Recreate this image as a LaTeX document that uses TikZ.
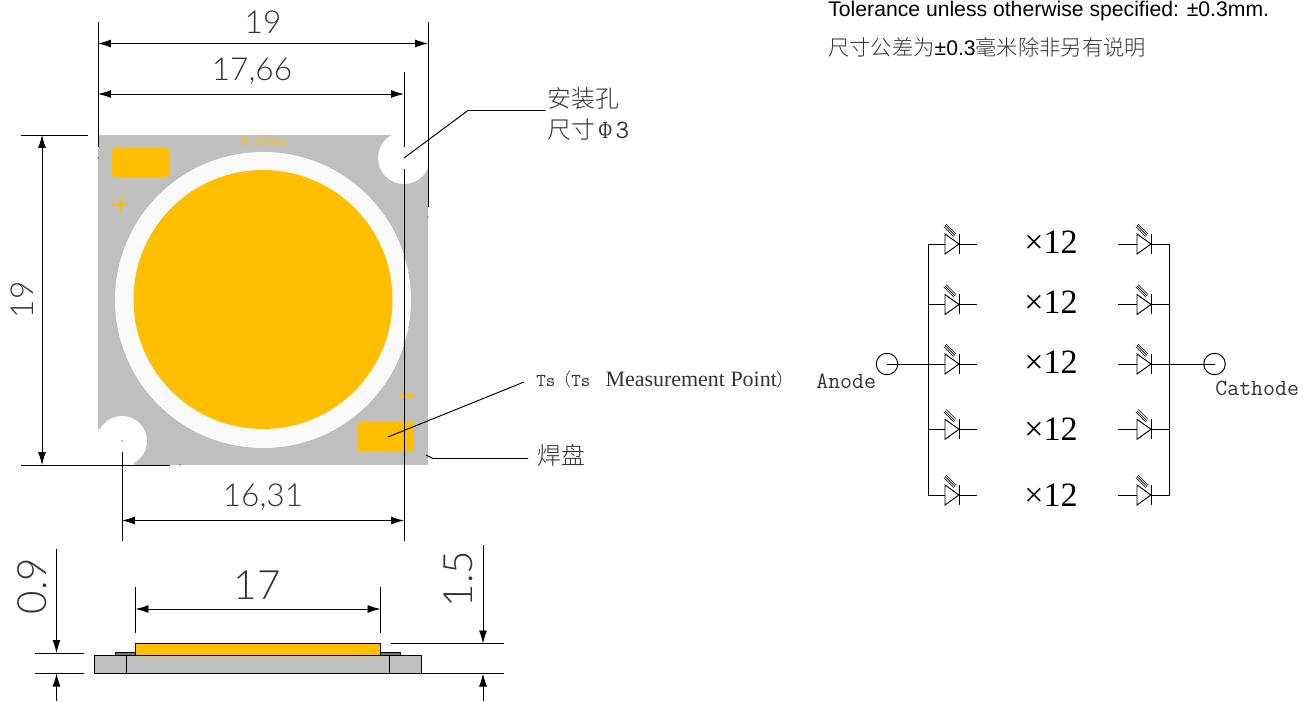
\documentclass[tikz,border=0pt]{standalone}
\usepackage{fontspec}
\usetikzlibrary{arrows.meta}
\usetikzlibrary{positioning}
\setmainfont{Liberation Serif}
\setsansfont{Liberation Sans}
\newfontfamily\cjk{Noto Sans CJK SC Light}
\newfontfamily\cadfont{Lato Light}
\newfontfamily\monofont{Latin Modern Mono}
\definecolor{myellow}{rgb}{1, 0.75, 0}
\definecolor{mgray}{rgb}{0.75, 0.75, 0.75}
\definecolor{mring}{rgb}{0.98, 0.98, 0.98}
\definecolor{mtext}{rgb}{0.2, 0.2, 0.2}
\newcommand{\txtsize}[1]{\fontsize{#1}{#1}\selectfont}
\tikzset{thinline/.style = {line width = 0.55pt}}
\tikzset{dimline/.style = {thinline, {Latex[length = 0.26cm, width = 0.16cm]}-{Latex[length = 0.26cm, width = 0.16cm]}}}
\tikzset{dimend/.style = {thinline, -{Latex[length = 0.26cm, width = 0.16cm]}}}
\tikzset{cadlabel/.style = {inner sep = 0, text = mtext, font = \cadfont\txtsize{18}}}
\tikzset{sidelabel/.style = {cadlabel, font = \cadfont\txtsize{23}}}
\tikzset{cjklabel/.style = {inner sep = 0, anchor = west, text = mtext, font = \cjk\txtsize{13.6}}}
\tikzset{monolabel/.style = {inner sep = 0, anchor = west, text = mtext, font = \monofont\txtsize{13.2}}}
\tikzset{countlabel/.style = {inner sep = 0, font = \txtsize{19.4}}}
\tikzset{term/.style = {draw, thinline, circle, inner sep = 0, minimum size = 0.43cm}}
\newcommand{\ledsym}[2]{
  \begin{scope}[shift = {(#1, #2)}]
    \draw [thinline] (0, -10) -- (14, 0) -- (0, 10) -- cycle;
    \draw [thinline] (14, -10) -- (14, 10);
    \foreach \k in {-1.2, 0, 1.2}
      \draw [line width = 0.35pt] (\k, -18.6 - \k) -- (10 + \k, -8.6 - \k);
  \end{scope}
}
\begin{document}
\begin{tikzpicture}[x = 0.02cm, y = -0.02cm]
  \useasboundingbox (0, 0) rectangle (1315, 702);

  \fill [mgray] (98, 135) rectangle (428, 465);
  \fill [white] (390.5, 134) -- (429, 134) -- (429, 168) -- (404, 158) -- cycle;
  \fill [white] (97, 428) -- (97, 466) -- (135, 466) -- (122, 441) -- cycle;
  \fill [white] (404, 158) circle [radius = 26];
  \fill [white] (122, 441) circle [radius = 25];
  \fill [mring] (263, 300) circle [radius = 148];
  \fill [myellow] (263, 299.5) circle [radius = 129.5];
  \fill [myellow, rounded corners = 1] (112, 148) rectangle (169, 177);
  \fill [myellow] (358, 422) rectangle (414, 451);
  \fill [myellow] (399, 394) rectangle (414, 397);
  \fill [myellow] (112, 203) rectangle (128, 206);
  \fill [myellow] (118.5, 197) rectangle (121.5, 212);
  \node (partno) [inner sep = 0, text = myellow, font = \monofont\txtsize{7.5}] at (263, 142) {\scalebox{0.8}[1]{HL-LM003}};
  \foreach \spotx/\spoty in {122/441, 180/465, 98/158, 428/217}
    \fill (\spotx, \spoty) circle [radius = 0.7];

  \coordinate (topa) at (98, 22);
  \coordinate (topb) at (98, 147);
  \coordinate (topc) at (428, 22);
  \coordinate (topd) at (428, 207);
  \coordinate (tope) at (404, 72);
  \coordinate (topf) at (404, 147);
  \coordinate (topg) at (404, 169);
  \coordinate (toph) at (404, 541);
  \coordinate (w19a) at (98, 43.5);
  \coordinate (w19b) at (428, 43.5);
  \coordinate (w17a) at (98, 94);
  \coordinate (w17b) at (404, 94);
  \draw [thinline] (topa) -- (topb);
  \draw [thinline] (topc) -- (topd);
  \draw [thinline] (tope) -- (topf);
  \draw [thinline] (topg) -- (toph);
  \draw [dimline] (w19a) -- (w19b);
  \draw [dimline] (w17a) -- (w17b);
  \node (w19) [cadlabel] at (263, 22) {19};
  \node (w17) [cadlabel] at (252, 71) {17,66};

  \coordinate (lefta) at (21, 135);
  \coordinate (leftb) at (88, 135);
  \coordinate (leftc) at (21, 465);
  \coordinate (leftd) at (170, 465);
  \coordinate (h19a) at (42, 135);
  \coordinate (h19b) at (42, 465);
  \draw [thinline] (lefta) -- (leftb);
  \draw [thinline] (leftc) -- (leftd);
  \draw [dimline] (h19a) -- (h19b);
  \node (h19) [cadlabel, rotate = 90] at (22, 300) {19};

  \coordinate (lowa) at (122, 452);
  \coordinate (lowb) at (122, 541);
  \coordinate (w16a) at (122, 520.5);
  \coordinate (w16b) at (404, 520.5);
  \draw [thinline] (lowa) -- (lowb);
  \draw [dimline] (w16a) -- (w16b);
  \node (w16) [cadlabel] at (263, 497) {16,31};

  \coordinate (holeend) at (404, 158);
  \coordinate (holebend) at (468, 110.5);
  \coordinate (holefree) at (545.5, 110.5);
  \draw [thinline] (holeend) -- (holebend) -- (holefree);
  \node (hole) [cjklabel] at (547, 98) {安装孔};
  \node (holesize) [cjklabel] at (547, 129) {尺寸\kern 2pt\scalebox{0.75}[1]{\rmfamily\txtsize{14}Φ}\kern 2pt{\monofont\txtsize{15}3}};

  \coordinate (tsend) at (388, 437);
  \coordinate (tsfree) at (524, 382);
  \draw [thinline] (tsend) -- (tsfree);
  \node (ts) [monolabel, font = \monofont\txtsize{10.3}] at (536, 380) {Ts\kern -1.2pt{\cjk（}Ts\kern 5.5pt{\rmfamily\txtsize{12.5} Measurement Point}{\cjk）}};

  \coordinate (padend) at (426, 455);
  \coordinate (padbend) at (433, 458.5);
  \coordinate (padfree) at (528, 458.5);
  \draw [thinline] (padend) -- (padbend) -- (padfree);
  \node (pad) [cjklabel] at (537, 455) {焊盘};

  \fill [myellow] (135.5, 643.5) rectangle (380.5, 655);
  \draw [thinline] (135.5, 643.5) rectangle (380.5, 655);
  \draw [thinline, fill = mgray!60!black] (115, 652.5) rectangle (135.5, 655);
  \draw [thinline, fill = mgray!60!black] (380.5, 652.5) rectangle (400, 655);
  \draw [thinline, fill = mgray] (94.5, 655.5) rectangle (421, 673.5);
  \draw [thinline] (126, 655.5) -- (126, 673.5);
  \draw [thinline] (389.5, 655.5) -- (389.5, 673.5);

  \coordinate (sidea) at (135.5, 587);
  \coordinate (sideb) at (135.5, 633);
  \coordinate (sidec) at (380.5, 587);
  \coordinate (sided) at (380.5, 633);
  \coordinate (w17sa) at (135.5, 609);
  \coordinate (w17sb) at (380.5, 609);
  \draw [thinline] (sidea) -- (sideb);
  \draw [thinline] (sidec) -- (sided);
  \draw [dimline] (w17sa) -- (w17sb);
  \node (w17s) [sidelabel] at (257, 585) {17};

  \coordinate (basea) at (35, 653);
  \coordinate (baseb) at (84, 653);
  \coordinate (basec) at (35, 673.5);
  \coordinate (based) at (84, 673.5);
  \coordinate (t09a) at (56.5, 549);
  \coordinate (t09b) at (56.5, 653);
  \coordinate (t09c) at (56.5, 701);
  \coordinate (t09d) at (56.5, 673.5);
  \draw [thinline] (basea) -- (baseb);
  \draw [thinline] (basec) -- (based);
  \draw [dimend] (t09a) -- (t09b);
  \draw [dimend] (t09c) -- (t09d);
  \node (t09) [sidelabel, rotate = 90] at (32, 586) {0.9};

  \coordinate (capa) at (391, 643.5);
  \coordinate (capb) at (504, 643.5);
  \coordinate (capc) at (421, 673.5);
  \coordinate (capd) at (504, 673.5);
  \coordinate (t15a) at (483, 545);
  \coordinate (t15b) at (483, 643.5);
  \coordinate (t15c) at (483, 701);
  \coordinate (t15d) at (483, 673.5);
  \draw [thinline] (capa) -- (capb);
  \draw [thinline] (capc) -- (capd);
  \draw [dimend] (t15a) -- (t15b);
  \draw [dimend] (t15c) -- (t15d);
  \node (t15) [sidelabel, rotate = 90] at (458, 579) {1.5};

  \node (tolen) [inner sep = 0, anchor = west, font = \sffamily\txtsize{12.05}] at (828, 11) {Tolerance unless otherwise specified: ±0.3mm.};
  \node (tolcn) [inner sep = 0, anchor = west, font = \sffamily\txtsize{12.05}] at (828, 47) {{\cjk\txtsize{12.1}\color{mtext}尺寸公差为}±0.3{\cjk\txtsize{12.1}\color{mtext}毫米除非另有说明}};

  \foreach \ledy [count = \i] in {244, 304.5, 364, 429.3, 495} {
    \coordinate (lbus\i) at (928, \ledy);
    \coordinate (rbus\i) at (1169.5, \ledy);
    \coordinate (ledla\i) at (945, \ledy);
    \coordinate (ledlb\i) at (976.5, \ledy);
    \coordinate (ledra\i) at (1118, \ledy);
    \coordinate (ledrb\i) at (1137, \ledy);
    \ledsym{945}{\ledy}
    \ledsym{1137}{\ledy}
    \draw [thinline] (lbus\i) -- (ledla\i);
    \draw [thinline] (ledla\i) ++(14, 0) -- (ledlb\i);
    \draw [thinline] (ledra\i) -- (ledrb\i);
    \draw [thinline] (ledrb\i) ++(14, 0) -- (rbus\i);
  }
  \draw [thinline] (lbus1) -- (lbus5);
  \draw [thinline] (rbus1) -- (rbus5);
  \foreach \county [count = \i] in {242, 302, 362, 429, 495}
    \node (count\i) [countlabel] at (1051, \county) {×12};

  \node (anodepin) [term] at (887, 364) {};
  \node (cathodepin) [term] at (1214.5, 364) {};
  \draw [thinline] (anodepin.center) -- (lbus3);
  \draw [thinline] (rbus3) -- (cathodepin.center);
  \node (anode) [monolabel] at (816, 381) {Anode};
  \node (cathode) [monolabel] at (1215, 388) {Cathode};
\end{tikzpicture}
\end{document}
